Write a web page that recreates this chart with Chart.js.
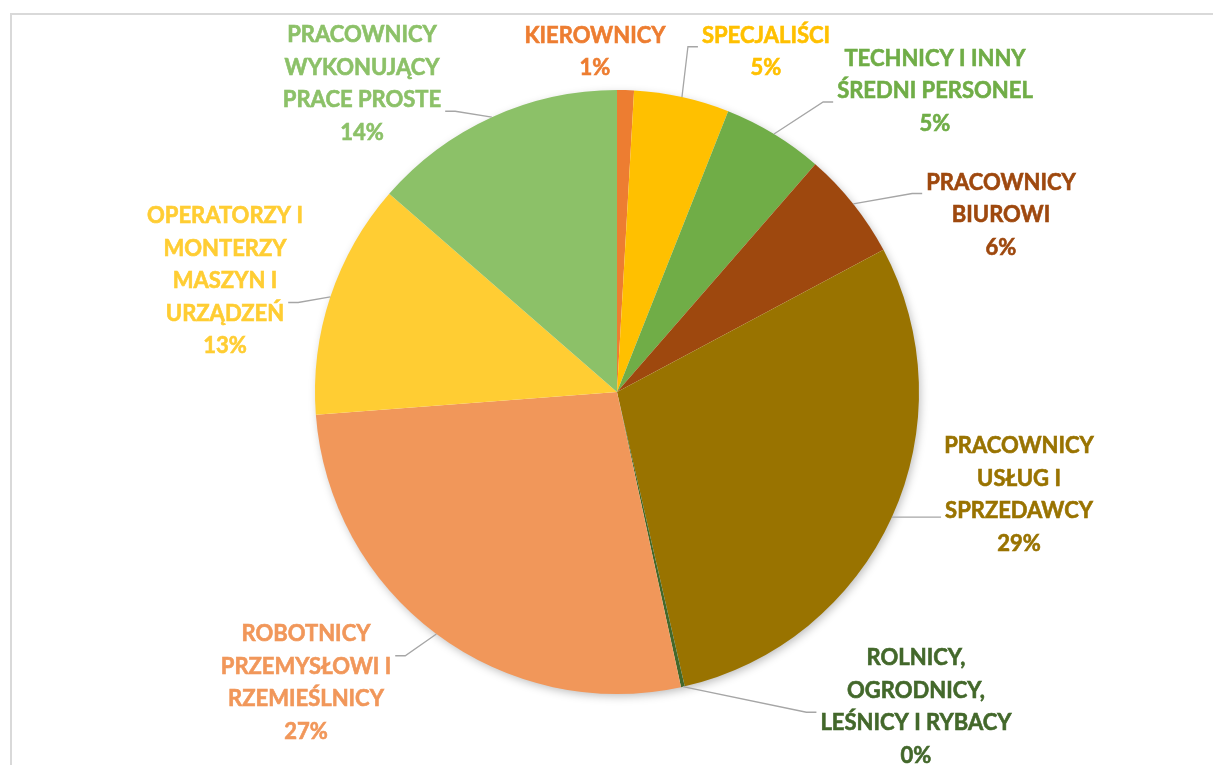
<!DOCTYPE html>
<html lang="pl">
<head>
<meta charset="utf-8">
<title>Grupy zawodów</title>
<script src="https://cdn.jsdelivr.net/npm/chart.js@4.4.1/dist/chart.umd.min.js"></script>
<style>
  html, body { margin: 0; padding: 0; background: #fff; }
  canvas { display: block; }
</style>
</head>
<body>
<canvas id="occupation-chart" width="1213" height="765"></canvas>
<script>
// grupy zawodów - etykiety w kilku liniach
const categories = [
  ['KIEROWNICY'],
  ['SPECJALIŚCI'],
  ['TECHNICY I INNY', 'ŚREDNI PERSONEL'],
  ['PRACOWNICY', 'BIUROWI'],
  ['PRACOWNICY', 'USŁUG I', 'SPRZEDAWCY'],
  ['ROLNICY,', 'OGRODNICY,', 'LEŚNICY I RYBACY'],
  ['ROBOTNICY', 'PRZEMYSŁOWI I', 'RZEMIEŚLNICY'],
  ['OPERATORZY I', 'MONTERZY', 'MASZYN I', 'URZĄDZEŃ'],
  ['PRACOWNICY', 'WYKONUJĄCY', 'PRACE PROSTE'],
];

// udział w %
const shares = [0.9, 5.1, 5.4, 5.8, 29.2, 0.2, 27.2, 12.6, 13.6];

const sliceColors = [
  '#ED7D31', '#FFC000', '#70AD47', '#9E480E', '#997300',
  '#43682B', '#F1975A', '#FFCD33', '#8CC168',
];

// gdzie stoją etykiety względem środka koła (tylko wygląd)
const labelOffsets = [
  [-22, -340], [149, -340], [318, -301], [384, -177], [402, 103],
  [299, 315], [-311, 291], [-392, -111], [-255, -308],
];

const labelFont = 'bold 22px Lato';
const lineHeight = 32.5;

// ramka jak w excelu
const framePlugin = {
  id: 'frame',
  beforeDraw(chart) {
    const { ctx } = chart;
    ctx.save();
    ctx.strokeStyle = '#d9d9d9';
    ctx.lineWidth = 2;
    ctx.beginPath();
    ctx.moveTo(11, chart.height);
    ctx.lineTo(11, 14);
    ctx.lineTo(chart.width, 14);
    ctx.stroke();
    ctx.restore();
  },
};

// cień pod kołem
const shadowPlugin = {
  id: 'pieShadow',
  beforeDatasetsDraw(chart) {
    const arc = chart.getDatasetMeta(0).data[0];
    if (!arc) return;
    const { ctx } = chart;
    ctx.save();
    ctx.shadowColor = 'rgba(0,0,0,0.28)';
    ctx.shadowBlur = 10;
    ctx.shadowOffsetX = 2;
    ctx.shadowOffsetY = 3;
    ctx.fillStyle = '#fff';
    ctx.beginPath();
    ctx.arc(arc.x, arc.y, arc.outerRadius - 1, 0, Math.PI * 2);
    ctx.fill();
    ctx.restore();
  },
};

// etykiety danych z liniami odniesienia
const labelsPlugin = {
  id: 'outsideLabels',
  afterDatasetsDraw(chart) {
    const { ctx } = chart;
    const meta = chart.getDatasetMeta(0);
    const total = shares.reduce((a, b) => a + b, 0);
    ctx.save();
    ctx.font = labelFont;
    ctx.textAlign = 'center';
    ctx.textBaseline = 'middle';

    meta.data.forEach((arc, i) => {
      const lines = [...categories[i], Math.round(shares[i] / total * 100) + '%'];
      const cx = arc.x + labelOffsets[i][0];
      const cy = arc.y + labelOffsets[i][1];
      const mid = (arc.startAngle + arc.endAngle) / 2;
      const px = arc.x + Math.cos(mid) * arc.outerRadius;
      const py = arc.y + Math.sin(mid) * arc.outerRadius;

      // najbliższy punkt tekstu do łuku
      let best = null;
      lines.forEach((txt, k) => {
        const ly = cy + (k - (lines.length - 1) / 2) * lineHeight;
        const w = ctx.measureText(txt).width;
        const x0 = cx - w / 2 - 4, x1 = cx + w / 2 + 4;
        const y0 = ly - 11, y1 = ly + 11;
        const nx = Math.min(Math.max(px, x0), x1);
        const ny = Math.min(Math.max(py, y0), y1);
        const d = Math.hypot(px - nx, py - ny);
        if (!best || d < best.d) best = { x: nx, y: ny, d };
      });

      if (best.d > 30) {
        const dir = Math.sign(px - best.x) || 1;
        ctx.strokeStyle = '#a6a6a6';
        ctx.lineWidth = 1.3;
        ctx.beginPath();
        ctx.moveTo(best.x, best.y);
        ctx.lineTo(best.x + dir * 10, best.y);
        ctx.lineTo(px, py);
        ctx.stroke();
      }

      ctx.fillStyle = sliceColors[i];
      ctx.strokeStyle = sliceColors[i];
      ctx.lineWidth = 0.6;
      lines.forEach((txt, k) => {
        const ly = cy + (k - (lines.length - 1) / 2) * lineHeight;
        ctx.fillText(txt, cx, ly);
        ctx.strokeText(txt, cx, ly);
      });
    });
    ctx.restore();
  },
};

new Chart(document.getElementById('occupation-chart'), {
  type: 'pie',
  data: {
    labels: categories.map((c) => c.join(' ')),
    datasets: [{
      data: shares,
      backgroundColor: sliceColors,
      borderWidth: 0,
    }],
  },
  options: {
    responsive: false,
    animation: false,
    layout: { padding: { top: 90, bottom: 71, left: 315, right: 294 } },
    plugins: {
      legend: { display: false },
      tooltip: { enabled: false },
    },
  },
  plugins: [framePlugin, shadowPlugin, labelsPlugin],
});
</script>
</body>
</html>
